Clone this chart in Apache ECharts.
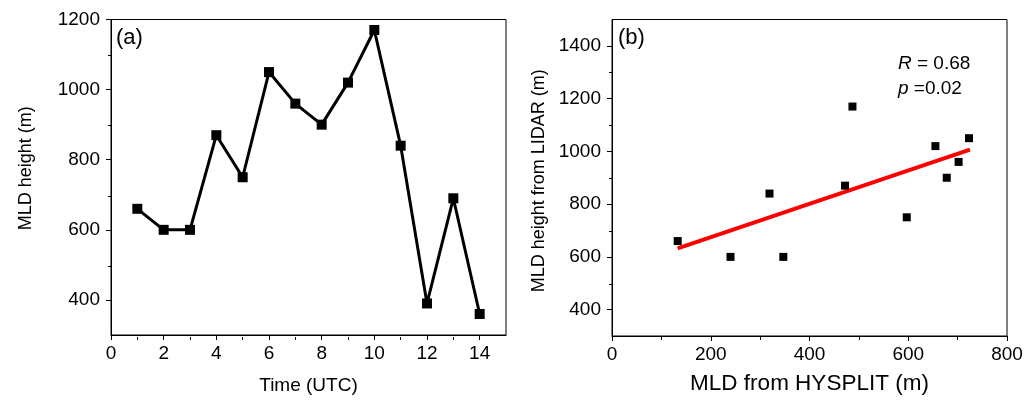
<!DOCTYPE html>
<html>
<head>
<meta charset="utf-8">
<script src="https://cdn.jsdelivr.net/npm/echarts@6/dist/echarts.min.js"></script>
<style>html,body{margin:0;padding:0;background:#fff}#c{width:1035px;height:400px}</style>
</head>
<body>
<div id="c"></div>
<script>
// Panel (a): MLD height time series
const hours = [1,2,3,4,5,6,7,8,9,10,11,12,13,14];
const mldHeight = [660,600,600,870,750,1050,960,900,1020,1170,840,390,690,360];
const aXTickLabels = [0,2,4,6,8,10,12,14];
const aXMinorTicks = [1,3,5,7,9,11,13];
const aYTickLabels = [400,600,800,1000,1200];
const aYMinorTicks = [500,700,900,1100];

// Panel (b): LIDAR vs HYSPLIT scatter
const hysplitMLD = [133,240,319,347,472,487,597,655,678,702,723];
const lidarMLD = [660,600,840,600,870,1170,750,1020,900,960,1050];
const fitX = [133,725];
const fitY = [632,1007];
const bXTickLabels = [0,200,400,600,800];
const bXMinorTicks = [100,300,500,700];
const bYTickLabels = [400,600,800,1000,1200,1400];
const bYMinorTicks = [500,700,900,1100,1300];
const statR = '0.68';
const statP = '0.02';

const FONT = 'Liberation Sans, Arial, sans-serif';
const chart = echarts.init(document.getElementById('c'), null, {renderer:'canvas'});
const plain = v => String(v);

function majorAxis(gridIndex, min, max, values, pos, extra) {
  return Object.assign({
    type:'value', gridIndex, min, max, position:pos,
    axisLine:{show:true, onZero:false, lineStyle:{color:'#000', width:1}},
    splitLine:{show:false},
    axisTick:{show:true, length:5, customValues:values, lineStyle:{color:'#000', width:1}},
    axisLabel:{customValues:values, formatter:plain, fontFamily:FONT, fontSize:19, color:'#000',
               margin:(pos==='left'?11:9)}
  }, extra);
}
function minorAxis(gridIndex, min, max, values, pos) {
  return {
    type:'value', gridIndex, min, max, position:pos,
    axisLine:{show:false, onZero:false}, splitLine:{show:false},
    axisLabel:{show:false},
    axisTick:{show:true, length:3, customValues:values, lineStyle:{color:'#000', width:1}}
  };
}
const rectA = {left:111, top:19.5, width:395, height:317.5};
const rectB = {left:612, top:19.5, width:395, height:317.5};

const option = {
  animation:false,
  backgroundColor:'#fff',
  grid:[
    Object.assign({show:true, borderColor:'#000', borderWidth:1}, rectA),
    Object.assign({show:true, borderColor:'#000', borderWidth:1}, rectB),
    Object.assign({show:false}, rectA),
    Object.assign({show:false}, rectB)
  ],
  xAxis:[
    majorAxis(0,0,15,aXTickLabels,'bottom',{
      name:'Time (UTC)', nameLocation:'middle', nameGap:41,
      nameTextStyle:{fontFamily:FONT, fontSize:19, color:'#000'}}),
    majorAxis(1,0,800,bXTickLabels,'bottom',{
      name:'MLD from HYSPLIT (m)', nameLocation:'middle', nameGap:36,
      nameTextStyle:{fontFamily:FONT, fontSize:22.5, color:'#000'}}),
    minorAxis(2,0,15,aXMinorTicks,'bottom'),
    minorAxis(3,0,800,bXMinorTicks,'bottom')
  ],
  yAxis:[
    majorAxis(0,300,1200,aYTickLabels,'left',{
      name:'MLD height (m)', nameLocation:'middle', nameGap:76,
      nameTextStyle:{fontFamily:FONT, fontSize:18, color:'#000', padding:[0,0,0,18]}}),
    majorAxis(1,300,1500,bYTickLabels,'left',{
      name:'MLD height from LIDAR (m)', nameLocation:'middle', nameGap:64,
      nameTextStyle:{fontFamily:FONT, fontSize:18, color:'#000', padding:[0,6,0,0]}}),
    minorAxis(2,300,1200,aYMinorTicks,'left'),
    minorAxis(3,300,1500,bYMinorTicks,'left')
  ],
  series:[
    {type:'line', xAxisIndex:0, yAxisIndex:0,
     data:hours.map((h,i)=>[h, mldHeight[i]]),
     symbol:'rect', symbolSize:10, showSymbol:true,
     lineStyle:{color:'#000', width:3}, itemStyle:{color:'#000', opacity:1}},
    {type:'line', xAxisIndex:1, yAxisIndex:1,
     data:fitX.map((x,i)=>[x, fitY[i]]),
     symbol:'none', lineStyle:{color:'#ff0000', width:4}, z:3},
    {type:'scatter', xAxisIndex:1, yAxisIndex:1,
     data:hysplitMLD.map((x,i)=>[x, lidarMLD[i]]),
     symbol:'rect', symbolSize:8, itemStyle:{color:'#000', opacity:1}, z:4}
  ],
  graphic:[
    {type:'text', left:116, top:27, style:{text:'(a)', font:'22px '+FONT, fill:'#000'}},
    {type:'text', left:618, top:27, style:{text:'(b)', font:'22px '+FONT, fill:'#000'}},
    {type:'text', left:898, top:51, style:{
      text:'{i|R} = '+statR+'\n{i|p} ='+statP,
      font:'19px '+FONT, fill:'#000', lineHeight:25,
      rich:{i:{fontStyle:'italic', fontFamily:FONT, fontSize:19, fill:'#000', lineHeight:25}}
    }}
  ]
};
chart.setOption(option);
</script>
</body>
</html>
